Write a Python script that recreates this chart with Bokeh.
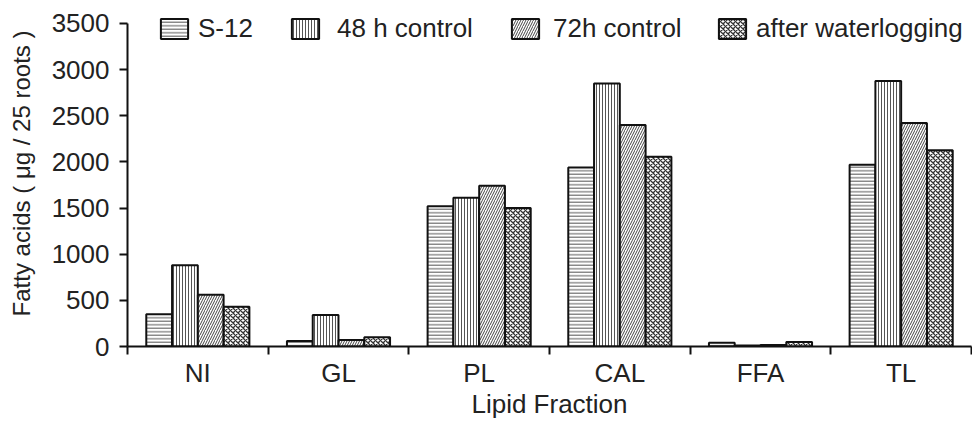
from bokeh.plotting import figure
from bokeh.models import ColumnDataSource, Range1d, FixedTicker, Legend, LegendItem
from bokeh.embed import file_html
from bokeh.resources import INLINE

categories = ["NI", "GL", "PL", "CAL", "FFA", "TL"]
series_names = ["S-12", "48 h control", "72h control", "after waterlogging"]
s12 = [350, 60, 1520, 1940, 40, 1970]
h48 = [880, 340, 1610, 2850, 10, 2875]
h72 = [560, 70, 1740, 2400, 15, 2420]
after_wl = [430, 100, 1500, 2055, 50, 2125]
y_ticks = [0, 500, 1000, 1500, 2000, 2500, 3000, 3500]

series_values = [s12, h48, h72, after_wl]
offsets = [-0.275, -0.0917, 0.0917, 0.275]
bar_w = 0.183
hatches = [
    dict(hatch_pattern="horizontal_line", hatch_scale=3.5, hatch_weight=1, hatch_color="#555555", fill_color="white"),
    dict(hatch_pattern="vertical_line", hatch_scale=3, hatch_weight=1, hatch_color="#555555", fill_color="white"),
    dict(hatch_pattern="right_diagonal_line", hatch_scale=5, hatch_weight=1, hatch_color="#444444", fill_color="white"),
    dict(hatch_pattern="diagonal_cross", hatch_scale=5, hatch_weight=1.3, hatch_color="#333333", fill_color="white"),
]
# legend box left edges (px from frame left) and text standoffs
legend_x = [30, 161, 381, 588]
legend_standoff = [7, 15, 11, 7]

FONT = "Liberation Sans"
TXT = "#222222"
Y_TOP_PAD = 3748  # range end so that 3500 sits just below the top edge

p = figure(width=972, height=421, output_backend="svg", toolbar_location=None,
           x_range=Range1d(0, len(categories)), y_range=Range1d(0, Y_TOP_PAD),
           min_border_left=127, min_border_right=1, min_border_top=0, min_border_bottom=74)
p.outline_line_color = None
p.grid.grid_line_color = None
p.background_fill_color = "white"
p.border_fill_color = "white"

renderers = []
for name, vals, off, h in zip(series_names, series_values, offsets, hatches):
    src = ColumnDataSource(dict(x=[i + 0.5 + off for i in range(len(categories))], top=vals))
    r = p.vbar(x="x", top="top", bottom=0, width=bar_w, source=src,
               line_color="#111111", line_width=2, **h)
    renderers.append(r)

# x axis
xa = p.xaxis[0]
xa.ticker = FixedTicker(ticks=[i + 0.5 for i in range(len(categories))],
                        minor_ticks=list(range(len(categories) + 1)))
xa.major_label_overrides = {i + 0.5: c for i, c in enumerate(categories)}
xa.major_tick_line_color = None
xa.major_tick_out = 0
xa.major_tick_in = 0
xa.minor_tick_line_color = "#111111"
xa.minor_tick_line_width = 2
xa.minor_tick_out = 8
xa.minor_tick_in = 0
xa.axis_line_width = 2
xa.axis_line_color = "#111111"
xa.major_label_text_font = FONT
xa.major_label_text_font_size = "26px"
xa.major_label_text_color = TXT
xa.major_label_standoff = 3
xa.axis_label = "Lipid Fraction"
xa.axis_label_text_font = FONT
xa.axis_label_text_font_size = "26px"
xa.axis_label_text_font_style = "normal"
xa.axis_label_text_color = TXT
xa.axis_label_standoff = -2

# y axis
ya = p.yaxis[0]
ya.bounds = (0, 3500)
ya.ticker = FixedTicker(ticks=y_ticks, minor_ticks=[])
ya.major_tick_out = 8
ya.major_tick_in = 0
ya.major_tick_line_width = 2
ya.major_tick_line_color = "#111111"
ya.minor_tick_line_color = None
ya.axis_line_width = 2
ya.axis_line_color = "#111111"
ya.major_label_text_font = FONT
ya.major_label_text_font_size = "26px"
ya.major_label_text_color = TXT
ya.major_label_standoff = 10
ya.axis_label = "Fatty acids ( μg / 25 roots )"
ya.axis_label_text_font = FONT
ya.axis_label_text_font_size = "24px"
ya.axis_label_text_font_style = "normal"
ya.axis_label_text_color = TXT
ya.axis_label_standoff = 14

for name, r, lx, ls in zip(series_names, renderers, legend_x, legend_standoff):
    lg = Legend(items=[LegendItem(label=name, renderers=[r])], orientation="horizontal",
                location=(lx, 302), glyph_width=34, glyph_height=25, label_standoff=ls,
                padding=0, margin=0, border_line_color=None, background_fill_alpha=0,
                label_text_font=FONT, label_text_font_size="26px", label_text_color=TXT)
    p.add_layout(lg)

open("out.html", "w").write(file_html(p, INLINE))
